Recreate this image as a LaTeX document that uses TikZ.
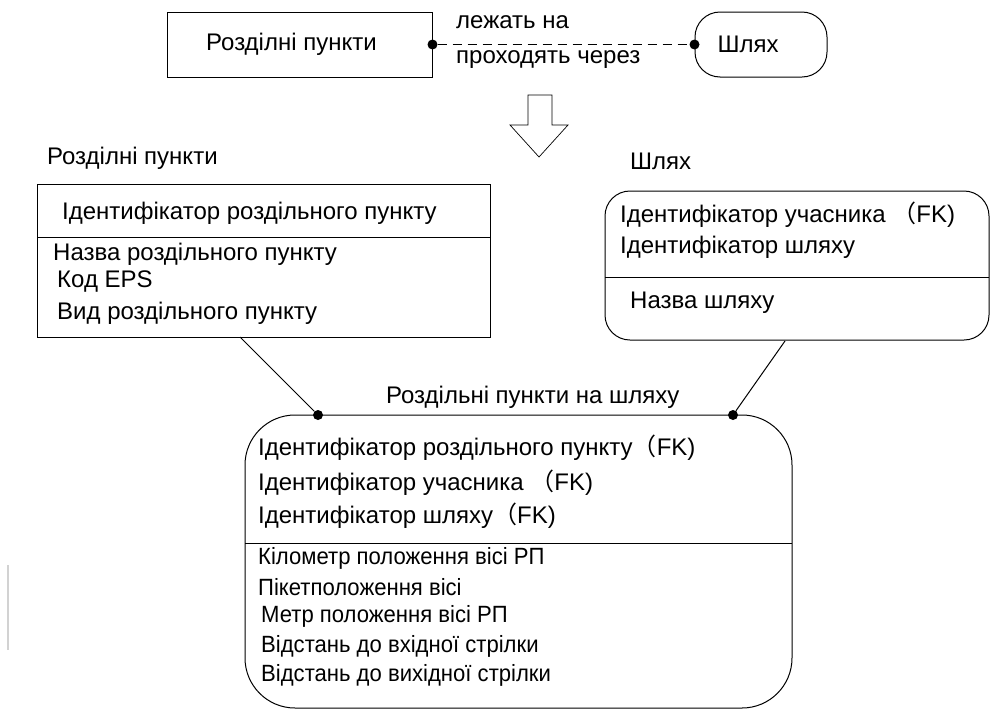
\documentclass[tikz,border=0pt]{standalone}
\usepackage{fontspec}
\setmainfont{Liberation Sans}
\newfontfamily\cjk{Noto Sans CJK SC}
\newfontfamily\narrowfont[FakeStretch=0.94]{Liberation Sans}

\newcommand{\fk}{{\cjk （}FK)}

\begin{document}
\begin{tikzpicture}[x=1pt,y=-1pt,
  every node/.style={font=\fontsize{24}{28}\selectfont},
  dot/.style={circle,inner sep=0,minimum size=10,fill=black},
  txt/.style={anchor=west,inner sep=0,text height=17,text depth=5},
  ntxt/.style={txt,font=\fontsize{23.5}{28}\narrowfont},
  entity/.style={draw,line width=1,inner sep=0}]

  \useasboundingbox (0,0) rectangle (990,718);

  \node[entity,minimum width=265,minimum height=65] (rp) at (299.5,44.5) {\hspace*{-16pt}Розділні пункти};
  \node[entity,rounded corners=25,minimum width=132,minimum height=65] (way) at (761,44.5) {\hspace*{-26pt}Шлях};

  \node[dot] (rpdot) at (rp.east) {};
  \node[dot] (waydot) at (way.west) {};
  \draw[dash pattern=on 9pt off 6pt,line width=1] (rpdot) -- (waydot);
  \node[txt] (lie) at (456,22) {лежать на};
  \node[txt] (pass) at (456,57) {проходять через};

  \draw[line width=0.7] (528,95) -- (552,95) -- (552,125) -- (568,125) -- (539,157)
    -- (510,125) -- (528,125) -- cycle;

  \node[txt] (rptitle) at (47,158) {Розділні пункти};
  \node[txt] (waytitle) at (630,163) {Шлях};

  \node[entity,minimum width=453,minimum height=153] (rpent) at (263.5,260.5) {};
  \draw[line width=1] (37,237) -- (490,237);
  \node[txt] (rpid) at (62,213) {Ідентифікатор роздільного пункту};
  \node[txt] (rpname) at (53,254) {Назва роздільного пункту};
  \node[txt] (rpcode) at (57,281) {Код EPS};
  \node[txt] (rpkind) at (57,313) {Вид роздільного пункту};

  \node[entity,rounded corners=25,minimum width=384,minimum height=149] (wayent) at (797,265.5) {};
  \draw[line width=1] (605,277) -- (989,277);
  \node[txt] (wayuid) at (620,216) {Ідентифікатор учасника \fk};
  \node[txt] (wayid) at (620,247) {Ідентифікатор шляху};
  \node[txt] (wayname) at (630,302) {Назва шляху};

  \node[txt] (linktitle) at (386,397) {Роздільні пункти на шляху};
  \node[entity,rounded corners=50,minimum width=547,minimum height=293] (link) at (518.5,561.5) {};
  \draw[line width=1] (245,543) -- (792,543);

  \node[dot] (linkl) at (318,415) {};
  \node[dot] (linkr) at (733,415) {};
  \coordinate (rpfoot) at (240,337);
  \coordinate (wayfoot) at (785,341);
  \draw[line width=1] (rpfoot) -- (linkl);
  \draw[line width=1] (wayfoot) -- (linkr);

  \node[txt] (lrpid) at (258,449) {Ідентифікатор роздільного пункту\fk};
  \node[txt] (luid) at (258,484) {Ідентифікатор учасника \fk};
  \node[txt] (lwayid) at (258,517) {Ідентифікатор шляху\fk};

  \node[ntxt] (lkm) at (258,558) {Кілометр положення вісі РП};
  \node[ntxt] (lpk) at (258,589) {Пікетположення вісі};
  \node[ntxt] (lm) at (261,616) {Метр положення вісі РП};
  \node[ntxt] (lin) at (261,646) {Відстань до вхідної стрілки};
  \node[ntxt] (lout) at (261,675) {Відстань до вихідної стрілки};

  \draw[gray!35,line width=1.5] (8,565) -- (8,650);
\end{tikzpicture}
\end{document}
